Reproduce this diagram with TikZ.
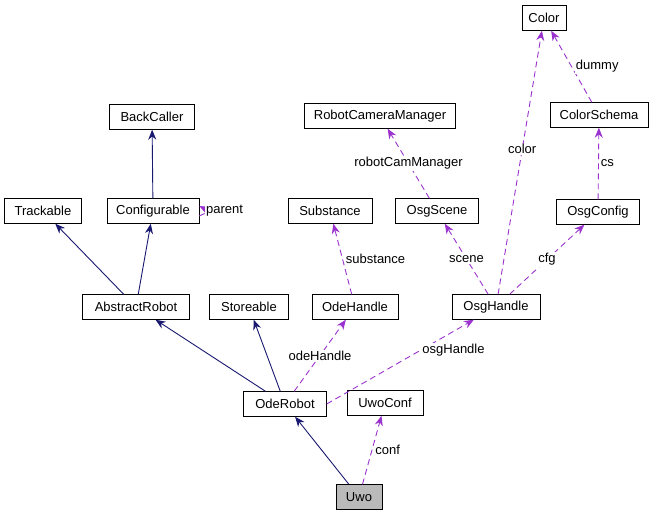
\documentclass[tikz,border=0pt]{standalone}
\usepackage{fontspec}
\setmainfont{Liberation Sans}
\usetikzlibrary{arrows.meta, positioning}
\definecolor{inh}{HTML}{191970}
\definecolor{use}{HTML}{9A32CD}
\tikzset{
  cls/.style={draw, fill=white, minimum height=25pt, inner sep=0pt, font=\fontsize{13}{15}\selectfont},
  isa/.style={draw=inh, line width=0.9pt, -{Stealth[length=10pt,width=8pt]}},
  has/.style={draw=use, line width=0.9pt, dash pattern=on 6pt off 4pt, -{Stealth[length=10pt,width=8pt]}},
  lbl/.style={font=\fontsize{13}{15}\selectfont, fill=white, inner sep=1pt}
}
\begin{document}
\begin{tikzpicture}[x=1pt, y=-1pt]
\useasboundingbox (0,0) rectangle (657,520);
% classes
\node[cls, minimum width=44pt] (color) at (544,18) {Color};
\node[cls, minimum width=85pt] (backcaller) at (152,117) {BackCaller};
\node[cls, minimum width=151pt] (camman) at (380,116) {RobotCameraManager};
\node[cls, minimum width=98pt] (schema) at (599,115) {ColorSchema};
\node[cls, minimum width=77pt] (trackable) at (43,211) {Trackable};
\node[cls, minimum width=92pt] (configurable) at (153,211) {Configurable};
\node[cls, minimum width=84pt] (substance) at (330,211) {Substance};
\node[cls, minimum width=83pt] (osgscene) at (437,211) {OsgScene};
\node[cls, minimum width=83pt] (osgconfig) at (598,212) {OsgConfig};
\node[cls, minimum width=107pt] (abstractrobot) at (136,307) {AbstractRobot};
\node[cls, minimum width=79pt] (storeable) at (249,307) {Storeable};
\node[cls, minimum width=86pt] (odehandle) at (355,307) {OdeHandle};
\node[cls, minimum width=88pt] (osghandle) at (496,307) {OsgHandle};
\node[cls, minimum width=83pt] (oderobot) at (285,404) {OdeRobot};
\node[cls, minimum width=76pt] (uwoconf) at (385,403) {UwoConf};
\node[cls, minimum width=46pt, fill=black!27] (uwo) at (359,497) {Uwo};
% inheritance
\draw[isa] (configurable) -- (backcaller);
\draw[isa] (abstractrobot) -- (trackable);
\draw[isa] (abstractrobot) -- (configurable);
\draw[isa] (oderobot) -- (abstractrobot);
\draw[isa] (oderobot) -- (storeable);
\draw[isa] (uwo) -- (oderobot);
% usage
\draw[has] ([yshift=-5pt]configurable.east) .. controls +(28,-14) and +(28,14) .. ([yshift=5pt]configurable.east);
\node[lbl, right] at (205,211) {parent};
\draw[has] (oderobot) -- node[lbl, pos=0.5] {odeHandle} (odehandle);
\draw[has] (oderobot.east) -- node[lbl, pos=0.6, above right=-4pt and 6pt] {osgHandle} (osghandle);
\draw[has] (odehandle) -- node[lbl, right=2pt] {substance} (substance);
\draw[has] (osghandle) -- node[lbl] {scene} (osgscene);
\draw[has] (osghandle) -- node[lbl] {cfg} (osgconfig);
\draw[has] (osghandle) -- node[lbl, pos=0.55] {color} (color);
\draw[has] (osgscene) -- node[lbl] {robotCamManager} (camman);
\draw[has] (osgconfig) -- node[lbl, right=1pt] {cs} (schema);
\draw[has] (schema) -- node[lbl, right=3pt] {dummy} (color);
\draw[has] (uwo) -- node[lbl, right=2pt] {conf} (uwoconf);
\end{tikzpicture}
\end{document}
